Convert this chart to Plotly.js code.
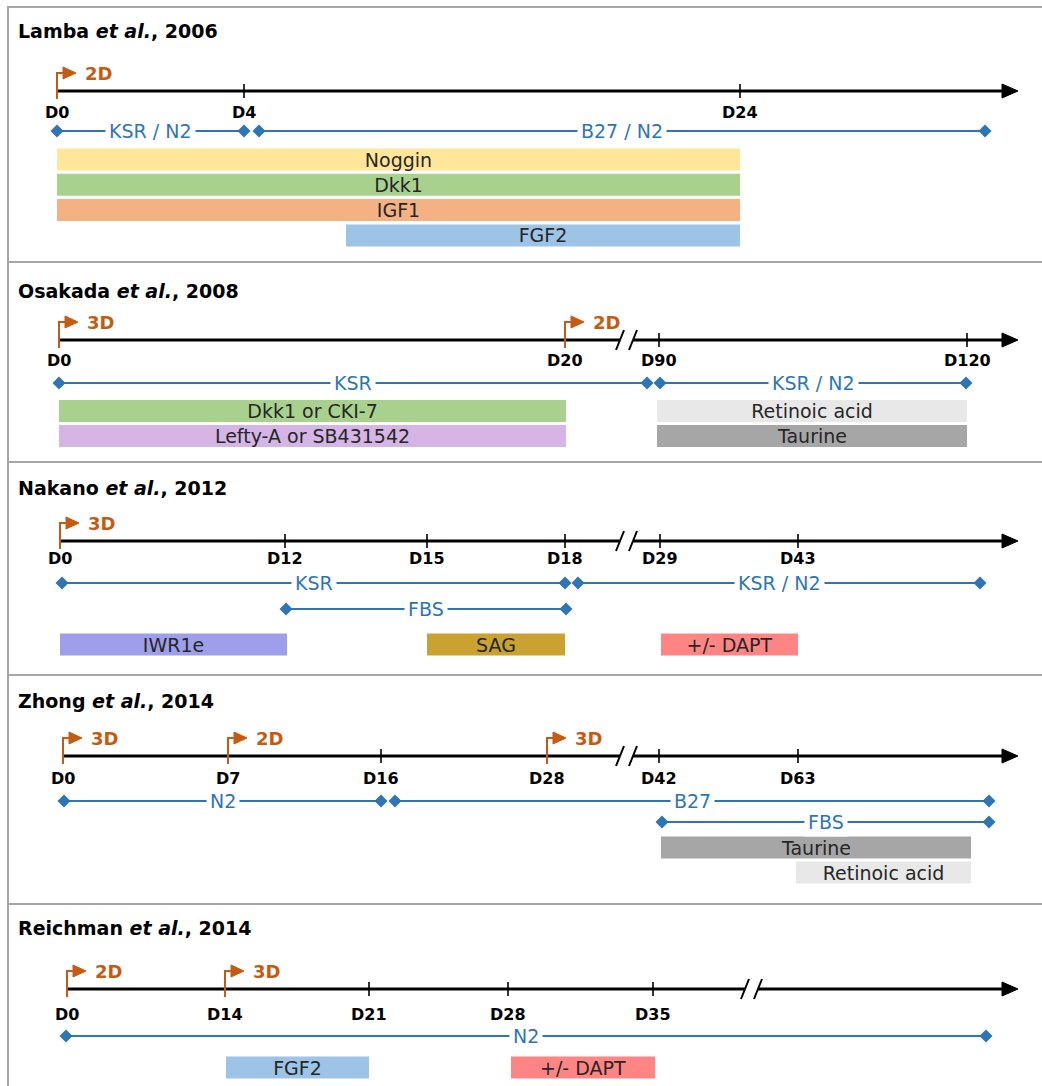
<!DOCTYPE html>
<html><head><meta charset="utf-8">
<script src="https://cdn.plot.ly/plotly-3.0.1.min.js"></script>
<style>html,body{margin:0;padding:0;background:#fff}#chart{width:1042px;height:1086px}</style>
</head><body><div id="chart"></div>
<script>
// ---------- DATA ----------
const studyAuthors = ['Lamba', 'Osakada', 'Nakano', 'Zhong', 'Reichman'];
const studyYears = ['2006', '2008', '2012', '2014', '2014'];

// Timeline ticks (day labels) and their schematic positions along each timeline
const lambaTicks = ['D0', 'D4', 'D24'];
const lambaTickPos = [57, 244, 740];
const osakadaTicks = ['D0', 'D20', 'D90', 'D120'];
const osakadaTickPos = [59, 565, 659, 967];
const nakanoTicks = ['D0', 'D12', 'D15', 'D18', 'D29', 'D43'];
const nakanoTickPos = [60, 285, 427, 565, 660, 798];
const zhongTicks = ['D0', 'D7', 'D16', 'D28', 'D42', 'D63'];
const zhongTickPos = [63, 228, 381, 547, 659, 798];
const reichmanTicks = ['D0', 'D14', 'D21', 'D28', 'D35'];
const reichmanTickPos = [67, 225, 369, 508, 653];

// Culture format switches (day where the format starts, format)
const lambaCultureAt = ['D0'];
const lambaCulture = ['2D'];
const osakadaCultureAt = ['D0', 'D20'];
const osakadaCulture = ['3D', '2D'];
const nakanoCultureAt = ['D0'];
const nakanoCulture = ['3D'];
const zhongCultureAt = ['D0', 'D7', 'D28'];
const zhongCulture = ['3D', '2D', '3D'];
const reichmanCultureAt = ['D0', 'D14'];
const reichmanCulture = ['2D', '3D'];

// Axis breaks (schematic position of the "//")
const lambaBreak = [];
const osakadaBreak = [627];
const nakanoBreak = [627];
const zhongBreak = [627];
const reichmanBreak = [752];

// Media periods
const lambaMedia = ['KSR / N2', 'B27 / N2'];
const lambaMediaStart = [57, 259];
const lambaMediaEnd = [244, 985];
const lambaMediaRow = [0, 0];
const osakadaMedia = ['KSR', 'KSR / N2'];
const osakadaMediaStart = [59, 660];
const osakadaMediaEnd = [647, 966];
const osakadaMediaRow = [0, 0];
const nakanoMedia = ['KSR', 'KSR / N2', 'FBS'];
const nakanoMediaStart = [62, 578, 286];
const nakanoMediaEnd = [565, 980, 566];
const nakanoMediaRow = [0, 0, 1];
const zhongMedia = ['N2', 'B27', 'FBS'];
const zhongMediaStart = [64, 395, 662];
const zhongMediaEnd = [381, 989, 989];
const zhongMediaRow = [0, 0, 1];
const reichmanMedia = ['N2'];
const reichmanMediaStart = [66];
const reichmanMediaEnd = [986];
const reichmanMediaRow = [0];

// Factors / small molecules
const lambaFactors = ['Noggin', 'Dkk1', 'IGF1', 'FGF2'];
const lambaFactorStart = [57, 57, 57, 346];
const lambaFactorEnd = [740, 740, 740, 740];
const lambaFactorRow = [0, 1, 2, 3];
const osakadaFactors = ['Dkk1 or CKI-7', 'Lefty-A or SB431542', 'Retinoic acid', 'Taurine'];
const osakadaFactorStart = [59, 59, 657, 657];
const osakadaFactorEnd = [566, 566, 967, 967];
const osakadaFactorRow = [0, 1, 0, 1];
const nakanoFactors = ['IWR1e', 'SAG', '+/- DAPT'];
const nakanoFactorStart = [60, 427, 661];
const nakanoFactorEnd = [287, 565, 798];
const nakanoFactorRow = [0, 0, 0];
const zhongFactors = ['Taurine', 'Retinoic acid'];
const zhongFactorStart = [661, 796];
const zhongFactorEnd = [971, 971];
const zhongFactorRow = [0, 1];
const reichmanFactors = ['FGF2', '+/- DAPT'];
const reichmanFactorStart = [226, 511];
const reichmanFactorEnd = [369, 655];
const reichmanFactorRow = [0, 0];

// ---------- STYLE / LAYOUT ----------
const FONT = '"DejaVu Sans", "Open Sans", sans-serif';
const ORANGE = '#C55A11';
const BLUE = '#2E75B6';
const GRID = '#A6A6A6';
const factorColor = {
  'Noggin': '#FFE699', 'Dkk1': '#A9D18E', 'IGF1': '#F4B183', 'FGF2': '#9DC3E6',
  'Dkk1 or CKI-7': '#A9D18E', 'Lefty-A or SB431542': '#D5B5E6',
  'Retinoic acid': '#E8E8E8', 'Taurine': '#A6A6A6',
  'IWR1e': '#9E9EEA', 'SAG': '#C9A232', '+/- DAPT': '#FF8585'
};

const panels = [
  {ticks: lambaTicks, pos: lambaTickPos, cAt: lambaCultureAt, c: lambaCulture, brk: lambaBreak,
   media: lambaMedia, ms: lambaMediaStart, me: lambaMediaEnd, mr: lambaMediaRow,
   f: lambaFactors, fs: lambaFactorStart, fe: lambaFactorEnd, fr: lambaFactorRow,
   g: {top: 7, title: 31, line: 91, label: 112, media: [131], bar0: 159.5, barStep: 25.3}},
  {ticks: osakadaTicks, pos: osakadaTickPos, cAt: osakadaCultureAt, c: osakadaCulture, brk: osakadaBreak,
   media: osakadaMedia, ms: osakadaMediaStart, me: osakadaMediaEnd, mr: osakadaMediaRow,
   f: osakadaFactors, fs: osakadaFactorStart, fe: osakadaFactorEnd, fr: osakadaFactorRow,
   g: {top: 262, title: 291, line: 340, label: 360, media: [383], bar0: 411, barStep: 25}},
  {ticks: nakanoTicks, pos: nakanoTickPos, cAt: nakanoCultureAt, c: nakanoCulture, brk: nakanoBreak,
   media: nakanoMedia, ms: nakanoMediaStart, me: nakanoMediaEnd, mr: nakanoMediaRow,
   f: nakanoFactors, fs: nakanoFactorStart, fe: nakanoFactorEnd, fr: nakanoFactorRow,
   g: {top: 462, title: 488, line: 541, label: 558, media: [583, 609], bar0: 644.5, barStep: 25}},
  {ticks: zhongTicks, pos: zhongTickPos, cAt: zhongCultureAt, c: zhongCulture, brk: zhongBreak,
   media: zhongMedia, ms: zhongMediaStart, me: zhongMediaEnd, mr: zhongMediaRow,
   f: zhongFactors, fs: zhongFactorStart, fe: zhongFactorEnd, fr: zhongFactorRow,
   g: {top: 675, title: 701, line: 756, label: 778, media: [801, 822], bar0: 847.5, barStep: 25}},
  {ticks: reichmanTicks, pos: reichmanTickPos, cAt: reichmanCultureAt, c: reichmanCulture, brk: reichmanBreak,
   media: reichmanMedia, ms: reichmanMediaStart, me: reichmanMediaEnd, mr: reichmanMediaRow,
   f: reichmanFactors, fs: reichmanFactorStart, fe: reichmanFactorEnd, fr: reichmanFactorRow,
   g: {top: 904, title: 928, line: 989, label: 1014, media: [1036], bar0: 1067.5, barStep: 25}}
];

const ARROW_TIP = 1018, ARROW_BASE = 1003, ARROW_HALF = 7;

const traces = [];
const shapes = [];
const annotations = [];

// frame
shapes.push({type: 'line', x0: 8, x1: 8, y0: 6, y1: 1086, line: {color: GRID, width: 2}});

panels.forEach((p, i) => {
  const g = p.g;
  // panel separator
  shapes.push({type: 'line', x0: 7, x1: 1042, y0: g.top, y1: g.top, line: {color: GRID, width: 2}});
  // title
  annotations.push({x: 16, y: g.title, xanchor: 'left', yanchor: 'middle', showarrow: false,
    text: '<b>' + studyAuthors[i] + ' <i>et al.</i>, ' + studyYears[i] + '</b>',
    font: {family: FONT, size: 19, color: '#000'}});

  // timeline (split at breaks)
  const pieces = [];
  let cur = p.pos[0];
  p.brk.forEach(b => { pieces.push([cur, b - 7]); cur = b + 6; });
  pieces.push([cur, ARROW_BASE]);
  pieces.forEach(pc => {
    traces.push({type: 'scatter', mode: 'lines', x: pc, y: [g.line, g.line],
      line: {color: '#000', width: 3}, hoverinfo: 'skip', showlegend: false});
  });
  // arrowhead
  shapes.push({type: 'path', path: `M ${ARROW_BASE - 1} ${g.line - ARROW_HALF} L ${ARROW_TIP} ${g.line} L ${ARROW_BASE - 1} ${g.line + ARROW_HALF} Z`,
    fillcolor: '#000', line: {color: '#000', width: 1}});
  // break marks
  p.brk.forEach(b => {
    [b - 7, b + 6].forEach(bx => {
      shapes.push({type: 'line', x0: bx - 4, x1: bx + 4, y0: g.line + 10, y1: g.line - 10, line: {color: '#000', width: 2}});
    });
  });

  // ticks + labels
  p.ticks.forEach((t, k) => {
    const x = p.pos[k];
    if (p.cAt.indexOf(t) < 0) {
      shapes.push({type: 'line', x0: x, x1: x, y0: g.line - 7, y1: g.line + 7, line: {color: '#000', width: 1.6}});
    }
    annotations.push({x: x, y: g.label, xanchor: 'center', yanchor: 'middle', showarrow: false,
      text: '<b>' + t + '</b>', font: {family: FONT, size: 16, color: '#000'}});
  });

  // culture switches
  p.cAt.forEach((d, k) => {
    const x = p.pos[p.ticks.indexOf(d)];
    const ya = g.line - 18;
    shapes.push({type: 'path', path: `M ${x} ${g.line + 8} L ${x} ${ya} L ${x + 7} ${ya}`,
      line: {color: ORANGE, width: 2}});
    shapes.push({type: 'path', path: `M ${x + 6} ${ya - 6} L ${x + 19} ${ya} L ${x + 6} ${ya + 6} Z`,
      fillcolor: ORANGE, line: {color: ORANGE, width: 1}});
    annotations.push({x: x + 26, y: ya, xanchor: 'left', yanchor: 'middle', showarrow: false,
      text: '<b>' + p.c[k] + '</b>', font: {family: FONT, size: 18, color: ORANGE}});
  });

  // media periods
  p.media.forEach((m, k) => {
    const y = g.media[p.mr[k]];
    traces.push({type: 'scatter', mode: 'lines+markers', x: [p.ms[k], p.me[k]], y: [y, y],
      line: {color: BLUE, width: 2.2}, marker: {symbol: 'diamond', size: 10, color: BLUE},
      hoverinfo: 'skip', showlegend: false, cliponaxis: false});
    annotations.push({x: (p.ms[k] + p.me[k]) / 2, y: y, xanchor: 'center', yanchor: 'middle', showarrow: false,
      text: m, font: {family: FONT, size: 19, color: BLUE}, bgcolor: '#fff', borderpad: 3});
  });

  // factors as horizontal bars
  traces.push({type: 'bar', orientation: 'h',
    base: p.fs, x: p.fs.map((s, k) => p.fe[k] - s),
    y: p.fr.map(r => g.bar0 + r * g.barStep),
    width: 22,
    marker: {color: p.f.map(n => factorColor[n]), line: {width: 0}},
    text: p.f, textposition: 'inside', insidetextanchor: 'middle', constraintext: 'none',
    textfont: {family: FONT, size: 19, color: '#262626'},
    hoverinfo: 'skip', showlegend: false});
});

const layout = {
  width: 1042, height: 1086,
  margin: {l: 0, r: 0, t: 0, b: 0},
  paper_bgcolor: '#fff', plot_bgcolor: '#fff',
  barmode: 'overlay',
  showlegend: false,
  xaxis: {range: [0, 1042], visible: false, fixedrange: true},
  yaxis: {range: [1086, 0], visible: false, fixedrange: true},
  shapes: shapes,
  annotations: annotations
};

Plotly.newPlot('chart', traces, layout, {staticPlot: true, displayModeBar: false});
</script>
</body></html>
